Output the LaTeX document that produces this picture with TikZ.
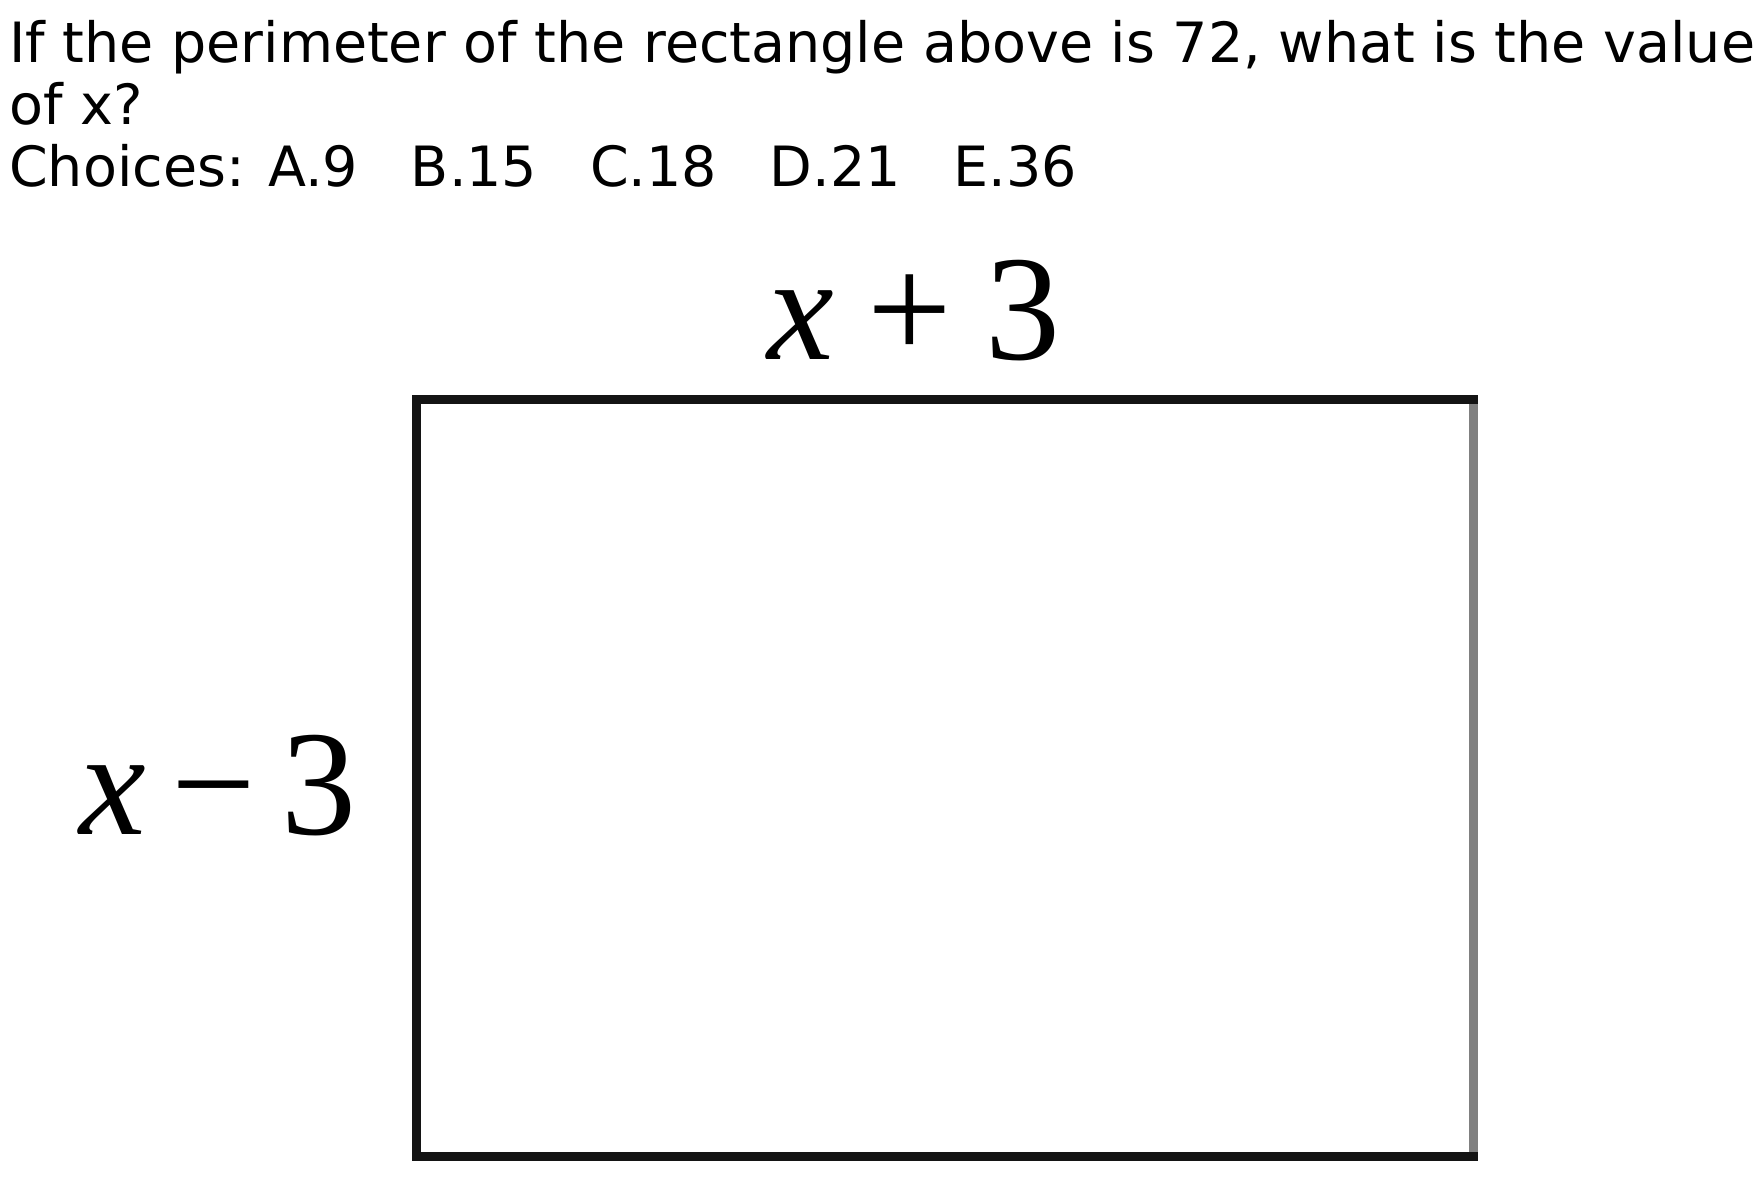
\documentclass[tikz,border=0pt]{standalone}
\usepackage{fontspec}
\setmainfont{DejaVu Sans}
\newfontfamily\sidefont{Liberation Serif}
\usepackage{tikz}
\usetikzlibrary{positioning}

\begin{document}
\begin{tikzpicture}[
    x=1pt, y=-1pt,
    qtext/.style = {anchor=base west, inner sep=0pt, font=\fontsize{55.5}{62}\selectfont},
    sidelbl/.style = {inner sep=0pt, font=\sidefont\fontsize{150}{160}\selectfont},
    side/.style = {line width=9pt, draw=black!92}
  ]
  \useasboundingbox (0,0) rectangle (1763,1186);

  % question text, one node per printed line
  \node[qtext] (qline1) at (9,62)  {If the perimeter of the rectangle above is 72, what is the value};
  \node[qtext] (qline2) at (9,124) {of x?};
  \node[qtext] (choices) at (9,186) {Choices: A.9\hspace{.95em}B.15\hspace{.95em}C.18\hspace{.95em}D.21\hspace{.95em}E.36};

  % rectangle corners (in px of the reference)
  \coordinate (nw) at (416,399);
  \coordinate (ne) at (1473,399);
  \coordinate (se) at (1473,1156);
  \coordinate (sw) at (416,1156);

  % right side is grey in the scan, drawn first so the black sides cover its ends
  \draw[side, draw=black!50] (se) -- (ne);
  \draw[side, line cap=rect] (ne) -- (nw) -- (sw) -- (se);

  % side labels
  \node[sidelbl] (toplbl)  at (914,311) {\textit{x}\hspace{.22em}+\hspace{.22em}3};
  \node[sidelbl] (leftlbl) at (218,786) {\textit{x}\hspace{.17em}−\hspace{.17em}3};
\end{tikzpicture}
\end{document}
